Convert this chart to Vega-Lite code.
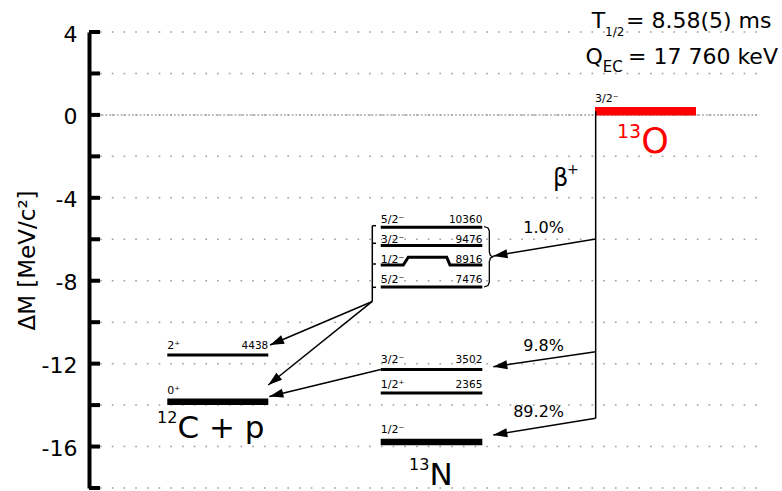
{
  "$schema": "https://vega.github.io/schema/vega-lite/v6.json",
  "width": 668,
  "height": 456,
  "autosize": {"type": "none"},
  "padding": {"left": 89, "top": 32, "right": 25, "bottom": 3},
  "background": "white",
  "config": {"view": {"stroke": null}, "text": {"font": "DejaVu Sans"}},
  "datasets": {
    "levels": [
      {"nuc": "13O", "spin": "3/2⁻", "e": "", "x": 75.75, "x2": 90.87, "y": 0.18, "lbl": 0.637, "kind": "parent"},
      {"nuc": "13N", "spin": "1/2⁻", "e": "", "x": 43.67, "x2": 58.88, "y": -15.78, "lbl": -15.347, "kind": "ground"},
      {"nuc": "13N", "spin": "1/2⁺", "e": "2365", "x": 43.67, "x2": 58.88, "y": -13.415, "lbl": -13.19, "kind": "excited"},
      {"nuc": "13N", "spin": "3/2⁻", "e": "3502", "x": 43.67, "x2": 58.88, "y": -12.278, "lbl": -11.955, "kind": "excited"},
      {"nuc": "13N", "spin": "5/2⁻", "e": "7476", "x": 43.67, "x2": 58.88, "y": -8.304, "lbl": -8.095, "kind": "excited"},
      {"nuc": "13N", "spin": "1/2⁻", "e": "8916", "x": 43.67, "x2": 58.88, "y": -6.864, "lbl": -7.131, "kind": "bent"},
      {"nuc": "13N", "spin": "3/2⁻", "e": "9476", "x": 43.67, "x2": 58.88, "y": -6.304, "lbl": -6.166, "kind": "excited"},
      {"nuc": "13N", "spin": "5/2⁻", "e": "10360", "x": 43.67, "x2": 58.88, "y": -5.42, "lbl": -5.23, "kind": "excited"},
      {"nuc": "12C+p", "spin": "0⁺", "e": "", "x": 11.72, "x2": 26.84, "y": -13.836, "lbl": -13.465, "kind": "ground"},
      {"nuc": "12C+p", "spin": "2⁺", "e": "4438", "x": 11.72, "x2": 26.84, "y": -11.584, "lbl": -11.275, "kind": "excited"}
    ],
    "bent": [
      {"i": 0, "x": 43.67, "y": -7.241},
      {"i": 1, "x": 47.05, "y": -7.241},
      {"i": 2, "x": 47.8, "y": -6.864},
      {"i": 3, "x": 53.55, "y": -6.864},
      {"i": 4, "x": 54.04, "y": -7.241},
      {"i": 5, "x": 58.88, "y": -7.241}
    ],
    "lines": [
      {"x": 75.85, "y": 0.18, "x2": 75.85, "y2": -14.638, "head": false},
      {"x": 75.85, "y": -5.992, "x2": 60.55, "y2": -6.807, "head": true},
      {"x": 75.85, "y": -11.424, "x2": 60.52, "y2": -12.148, "head": true},
      {"x": 75.85, "y": -14.638, "x2": 60.52, "y2": -15.443, "head": true},
      {"x": 42.41, "y": -9.0, "x2": 27.1, "y2": -11.101, "head": true},
      {"x": 42.41, "y": -9.0, "x2": 26.84, "y2": -13.031, "head": true},
      {"x": 43.67, "y": -12.278, "x2": 27.0, "y2": -13.586, "head": true},
      {"x": 42.41, "y": -5.345, "x2": 42.41, "y2": -9.0, "head": false},
      {"x": 42.41, "y": -5.345, "x2": 42.96, "y2": -5.345, "head": false},
      {"x": 42.41, "y": -6.194, "x2": 42.96, "y2": -6.194, "head": false},
      {"x": 42.41, "y": -7.193, "x2": 42.96, "y2": -7.193, "head": false},
      {"x": 42.41, "y": -8.317, "x2": 42.96, "y2": -8.317, "head": false}
    ],
    "brace": [
      {"i": 0, "x": 59.13, "y": -5.384},
      {"i": 1, "x": 59.73, "y": -5.456},
      {"i": 2, "x": 59.93, "y": -5.601},
      {"i": 3, "x": 59.93, "y": -6.614},
      {"i": 4, "x": 60.1, "y": -6.783},
      {"i": 5, "x": 60.48, "y": -6.841},
      {"i": 6, "x": 60.1, "y": -6.904},
      {"i": 7, "x": 59.93, "y": -7.073},
      {"i": 8, "x": 59.93, "y": -8.062},
      {"i": 9, "x": 59.73, "y": -8.231},
      {"i": 10, "x": 59.13, "y": -8.303}
    ],
    "ticks": [
      {"v": -18}, {"v": -16}, {"v": -14}, {"v": -12}, {"v": -10}, {"v": -8},
      {"v": -6}, {"v": -4}, {"v": -2}, {"v": 0}, {"v": 2}, {"v": 4}
    ],
    "notes": [
      {"t": "1.0%", "x": 71.11, "y": -5.712, "role": "pct"},
      {"t": "9.8%", "x": 71.11, "y": -11.376, "role": "pct"},
      {"t": "89.2%", "x": 71.11, "y": -14.589, "role": "pct"},
      {"t": "C + p", "x": 13.23, "y": -15.602, "role": "big"},
      {"t": "N", "x": 50.96, "y": -17.856, "role": "big"},
      {"t": "12", "x": 10.18, "y": -14.879, "role": "sup"},
      {"t": "13", "x": 47.9, "y": -17.132, "role": "sup"},
      {"t": "O", "x": 82.66, "y": -1.814, "role": "parent"},
      {"t": "13", "x": 79.04, "y": -1.129, "role": "parentsup"},
      {"t": "β", "x": 69.46, "y": -3.43, "role": "beta"},
      {"t": "+", "x": 71.56, "y": -2.827, "role": "betasup"},
      {"t": "T", "x": 75.25, "y": 4.179, "role": "info"},
      {"t": "= 8.58(5) ms", "x": 80.39, "y": 4.179, "role": "info"},
      {"t": "Q", "x": 74.31, "y": 2.456, "role": "info"},
      {"t": "= 17 760 keV", "x": 80.69, "y": 2.456, "role": "info"},
      {"t": "1/2", "x": 77.26, "y": 3.807, "role": "subT"},
      {"t": "EC", "x": 76.9, "y": 2.085, "role": "subQ"}
    ]
  },
  "layer": [
    {
      "data": {"name": "ticks"},
      "mark": {"type": "rule", "color": "#a0a0a0", "strokeWidth": 1.5, "strokeDash": [1.7, 10]},
      "encoding": {
        "y": {
          "field": "v",
          "type": "quantitative",
          "scale": {"domain": [-18, 4], "nice": false, "zero": false},
          "title": "ΔM [MeV/c²]",
          "axis": {
            "values": [-18, -16, -14, -12, -10, -8, -6, -4, -2, 0, 2, 4],
            "labelExpr": "datum.value % 4 === 0 ? '' + datum.value : ''",
            "domainColor": "black",
            "domainWidth": 4,
            "ticks": false,
            "grid": false,
            "labelFont": "DejaVu Sans",
            "labelFontSize": 22,
            "labelColor": "black",
            "labelPadding": 12,
            "labelOffset": 2,
            "titleFont": "DejaVu Sans",
            "titleFontSize": 23,
            "titleFontWeight": "normal",
            "titleColor": "black",
            "titlePadding": 2
          }
        }
      }
    },
    {
      "data": {"name": "ticks"},
      "transform": [{"filter": "datum.v === 0"}],
      "mark": {"type": "rule", "color": "#a0a0a0", "strokeWidth": 1.5, "strokeDash": [1.7, 2.1]},
      "encoding": {
        "y": {"field": "v", "type": "quantitative", "title": "ΔM [MeV/c²]"}
      }
    },
    {
      "data": {"name": "ticks"},
      "mark": {"type": "rule", "color": "black", "strokeWidth": 4},
      "encoding": {
        "x": {"datum": 0, "type": "quantitative", "scale": {"domain": [0, 100], "nice": false, "zero": false}, "axis": null},
        "x2": {"datum": 1.65},
        "y": {"field": "v", "type": "quantitative", "title": "ΔM [MeV/c²]"}
      }
    },
    {
      "data": {"name": "levels"},
      "transform": [{"filter": "datum.kind === 'excited'"}],
      "mark": {"type": "rule", "strokeWidth": 3, "color": "black", "strokeCap": "butt"},
      "encoding": {
        "x": {"field": "x", "type": "quantitative", "axis": null},
        "x2": {"field": "x2"},
        "y": {"field": "y", "type": "quantitative", "title": "ΔM [MeV/c²]"}
      }
    },
    {
      "data": {"name": "levels"},
      "transform": [{"filter": "datum.kind === 'ground'"}],
      "mark": {"type": "rule", "strokeWidth": 6.5, "color": "black", "strokeCap": "butt"},
      "encoding": {
        "x": {"field": "x", "type": "quantitative", "axis": null},
        "x2": {"field": "x2"},
        "y": {"field": "y", "type": "quantitative", "title": "ΔM [MeV/c²]"}
      }
    },
    {
      "data": {"name": "levels"},
      "transform": [{"filter": "datum.kind === 'parent'"}],
      "mark": {"type": "rule", "strokeWidth": 8.5, "color": "#ff0000", "strokeCap": "butt"},
      "encoding": {
        "x": {"field": "x", "type": "quantitative", "axis": null},
        "x2": {"field": "x2"},
        "y": {"field": "y", "type": "quantitative", "title": "ΔM [MeV/c²]"}
      }
    },
    {
      "data": {"name": "bent"},
      "mark": {"type": "line", "strokeWidth": 3, "color": "black", "strokeJoin": "miter"},
      "encoding": {
        "x": {"field": "x", "type": "quantitative", "axis": null},
        "y": {"field": "y", "type": "quantitative", "title": "ΔM [MeV/c²]"},
        "order": {"field": "i", "type": "quantitative"}
      }
    },
    {
      "data": {"name": "lines"},
      "mark": {"type": "rule", "strokeWidth": 1.5, "color": "black"},
      "encoding": {
        "x": {"field": "x", "type": "quantitative", "axis": null},
        "x2": {"field": "x2"},
        "y": {"field": "y", "type": "quantitative", "title": "ΔM [MeV/c²]"},
        "y2": {"field": "y2"}
      }
    },
    {
      "data": {"name": "lines"},
      "transform": [
        {"filter": "datum.head"},
        {"calculate": "atan2((datum.y - datum.y2) * 456 / 22, (datum.x2 - datum.x) * 6.68) * 180 / PI", "as": "ang"}
      ],
      "mark": {"type": "point", "shape": "M0,0L-2,-0.65L-2,0.65Z", "size": 196, "filled": true, "color": "black", "opacity": 1, "strokeWidth": 0},
      "encoding": {
        "x": {"field": "x2", "type": "quantitative", "axis": null},
        "y": {"field": "y2", "type": "quantitative", "title": "ΔM [MeV/c²]"},
        "angle": {"field": "ang", "type": "quantitative", "scale": null}
      }
    },
    {
      "data": {"name": "brace"},
      "mark": {"type": "line", "strokeWidth": 1.3, "color": "black"},
      "encoding": {
        "x": {"field": "x", "type": "quantitative", "axis": null},
        "y": {"field": "y", "type": "quantitative", "title": "ΔM [MeV/c²]"},
        "order": {"field": "i", "type": "quantitative"}
      }
    },
    {
      "data": {"name": "levels"},
      "mark": {"type": "text", "font": "DejaVu Sans", "fontSize": 11, "align": "left", "baseline": "alphabetic", "color": "black"},
      "encoding": {
        "x": {"field": "x", "type": "quantitative", "axis": null},
        "y": {"field": "lbl", "type": "quantitative", "title": "ΔM [MeV/c²]"},
        "text": {"field": "spin"}
      }
    },
    {
      "data": {"name": "levels"},
      "mark": {"type": "text", "font": "DejaVu Sans", "fontSize": 10.5, "align": "right", "baseline": "alphabetic", "color": "black"},
      "encoding": {
        "x": {"field": "x2", "type": "quantitative", "axis": null},
        "y": {"field": "lbl", "type": "quantitative", "title": "ΔM [MeV/c²]"},
        "text": {"field": "e"}
      }
    },
    {
      "data": {"name": "notes"},
      "transform": [{"filter": "datum.role === 'pct'"}],
      "mark": {"type": "text", "font": "DejaVu Sans", "fontSize": 16, "align": "right", "baseline": "alphabetic", "color": "black"},
      "encoding": {
        "x": {"field": "x", "type": "quantitative", "axis": null},
        "y": {"field": "y", "type": "quantitative", "title": "ΔM [MeV/c²]"},
        "text": {"field": "t"}
      }
    },
    {
      "data": {"name": "notes"},
      "transform": [{"filter": "datum.role === 'big'"}],
      "mark": {"type": "text", "font": "DejaVu Sans", "fontSize": 31, "align": "left", "baseline": "alphabetic", "color": "black"},
      "encoding": {
        "x": {"field": "x", "type": "quantitative", "axis": null},
        "y": {"field": "y", "type": "quantitative", "title": "ΔM [MeV/c²]"},
        "text": {"field": "t"}
      }
    },
    {
      "data": {"name": "notes"},
      "transform": [{"filter": "datum.role === 'sup'"}],
      "mark": {"type": "text", "font": "DejaVu Sans", "fontSize": 16, "align": "left", "baseline": "alphabetic", "color": "black"},
      "encoding": {
        "x": {"field": "x", "type": "quantitative", "axis": null},
        "y": {"field": "y", "type": "quantitative", "title": "ΔM [MeV/c²]"},
        "text": {"field": "t"}
      }
    },
    {
      "data": {"name": "notes"},
      "transform": [{"filter": "datum.role === 'parent'"}],
      "mark": {"type": "text", "font": "DejaVu Sans", "fontSize": 35, "align": "left", "baseline": "alphabetic", "color": "#ff0000"},
      "encoding": {
        "x": {"field": "x", "type": "quantitative", "axis": null},
        "y": {"field": "y", "type": "quantitative", "title": "ΔM [MeV/c²]"},
        "text": {"field": "t"}
      }
    },
    {
      "data": {"name": "notes"},
      "transform": [{"filter": "datum.role === 'parentsup'"}],
      "mark": {"type": "text", "font": "DejaVu Sans", "fontSize": 19, "align": "left", "baseline": "alphabetic", "color": "#ff0000"},
      "encoding": {
        "x": {"field": "x", "type": "quantitative", "axis": null},
        "y": {"field": "y", "type": "quantitative", "title": "ΔM [MeV/c²]"},
        "text": {"field": "t"}
      }
    },
    {
      "data": {"name": "notes"},
      "transform": [{"filter": "datum.role === 'beta'"}],
      "mark": {"type": "text", "font": "DejaVu Sans", "fontSize": 24, "align": "left", "baseline": "alphabetic", "color": "black"},
      "encoding": {
        "x": {"field": "x", "type": "quantitative", "axis": null},
        "y": {"field": "y", "type": "quantitative", "title": "ΔM [MeV/c²]"},
        "text": {"field": "t"}
      }
    },
    {
      "data": {"name": "notes"},
      "transform": [{"filter": "datum.role === 'betasup'"}],
      "mark": {"type": "text", "font": "DejaVu Sans", "fontSize": 14, "align": "left", "baseline": "alphabetic", "color": "black"},
      "encoding": {
        "x": {"field": "x", "type": "quantitative", "axis": null},
        "y": {"field": "y", "type": "quantitative", "title": "ΔM [MeV/c²]"},
        "text": {"field": "t"}
      }
    },
    {
      "data": {"name": "notes"},
      "transform": [{"filter": "datum.role === 'info'"}],
      "mark": {"type": "text", "font": "DejaVu Sans", "fontSize": 22, "align": "left", "baseline": "alphabetic", "color": "black"},
      "encoding": {
        "x": {"field": "x", "type": "quantitative", "axis": null},
        "y": {"field": "y", "type": "quantitative", "title": "ΔM [MeV/c²]"},
        "text": {"field": "t"}
      }
    },
    {
      "data": {"name": "notes"},
      "transform": [{"filter": "datum.role === 'subT'"}],
      "mark": {"type": "text", "font": "DejaVu Sans", "fontSize": 12, "align": "left", "baseline": "alphabetic", "color": "black"},
      "encoding": {
        "x": {"field": "x", "type": "quantitative", "axis": null},
        "y": {"field": "y", "type": "quantitative", "title": "ΔM [MeV/c²]"},
        "text": {"field": "t"}
      }
    },
    {
      "data": {"name": "notes"},
      "transform": [{"filter": "datum.role === 'subQ'"}],
      "mark": {"type": "text", "font": "DejaVu Sans", "fontSize": 15, "align": "left", "baseline": "alphabetic", "color": "black"},
      "encoding": {
        "x": {"field": "x", "type": "quantitative", "axis": null},
        "y": {"field": "y", "type": "quantitative", "title": "ΔM [MeV/c²]"},
        "text": {"field": "t"}
      }
    }
  ]
}
